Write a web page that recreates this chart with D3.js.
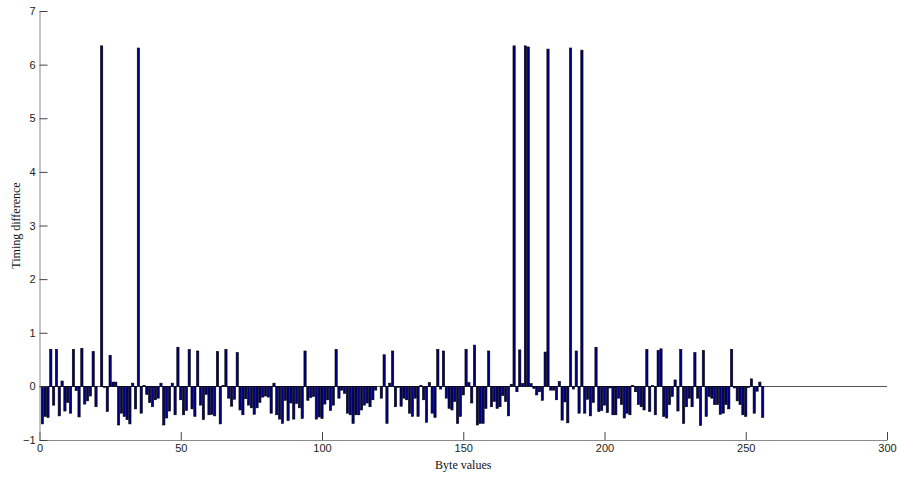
<!DOCTYPE html>
<html>
<head>
<meta charset="utf-8">
<script src="https://cdn.jsdelivr.net/npm/d3@7"></script>
<style>
  html, body { margin: 0; padding: 0; background: #fff; }
  svg { display: block; }
</style>
</head>
<body>
<svg id="chart" width="898" height="478"></svg>
<script>
// ---- data ----
const byteValues = d3.range(1, 257);
const timingDiff = [
  -0.70,-0.56,-0.58, 0.69,-0.35, 0.69,-0.55, 0.10,-0.46,-0.30,
  -0.50, 0.69,-0.08,-0.57, 0.71,-0.33,-0.27,-0.18, 0.65,-0.38,
   0.00, 6.35,-0.02,-0.47, 0.58, 0.08, 0.08,-0.72,-0.50,-0.56,
  -0.62,-0.70, 0.06,-0.42, 6.31,-0.50, 0.02,-0.15,-0.30,-0.38,
  -0.25,-0.22, 0.06,-0.72,-0.59,-0.46, 0.06,-0.53, 0.73,-0.25,
  -0.53,-0.45, 0.69,-0.42,-0.56, 0.66,-0.35,-0.62,-0.15,-0.53,
  -0.52,-0.55, 0.65,-0.70, 0.02, 0.69,-0.22,-0.37,-0.24, 0.63,
  -0.44,-0.53,-0.23,-0.35,-0.40,-0.52,-0.40,-0.30,-0.20,-0.18,
  -0.20,-0.50, 0.06,-0.53,-0.61,-0.69,-0.26,-0.64,-0.31,-0.61,
  -0.32,-0.40,-0.60, 0.66,-0.26,-0.21,-0.19,-0.61,-0.57,-0.60,
  -0.33,-0.25,-0.45,-0.35, 0.69,-0.22,-0.07,-0.13,-0.50,-0.53,
  -0.69,-0.53,-0.53,-0.44,-0.35,-0.31,-0.38,-0.25,-0.07, 0.00,
  -0.22, 0.59,-0.69, 0.06, 0.66,-0.38,-0.02,-0.37,-0.22,-0.25,
  -0.50,-0.56,-0.22,-0.56, 0.02,-0.25,-0.67, 0.07,-0.50,-0.58,
   0.69,-0.05, 0.66,-0.22,-0.41,-0.44,-0.28,-0.69,-0.56,-0.16,
   0.69, 0.07,-0.31, 0.77,-0.72,-0.69,-0.69,-0.41, 0.66,-0.38,
  -0.28,-0.41,-0.38,-0.17,-0.28,-0.55, 0.04, 6.35,-0.10, 0.68,
   0.05, 6.35, 6.33, 0.05,-0.04,-0.16,-0.10,-0.26, 0.64, 6.29,
  -0.07,-0.07,-0.25, 0.09,-0.63,-0.29,-0.68, 6.31,-0.05, 0.66,
  -0.50, 6.27,-0.50,-0.24,-0.55,-0.30, 0.73,-0.47,-0.45,-0.35,
  -0.49,-0.03,-0.53,-0.53,-0.22,-0.34,-0.59,-0.50,-0.53, 0.02,
  -0.10,-0.34,-0.38,-0.44, 0.69,-0.47, 0.02,-0.53, 0.67, 0.70,
  -0.56,-0.59,-0.34,-0.19, 0.12,-0.46, 0.69,-0.69,-0.38,-0.22,
  -0.38, 0.63,-0.22,-0.73, 0.67,-0.56,-0.19,-0.22,-0.34,-0.34,
  -0.52,-0.50,-0.34,-0.42, 0.69,-0.03,-0.27,-0.34,-0.53,-0.56,
  -0.02, 0.14,-0.50,-0.09, 0.08,-0.58
];
const xTicks = [0, 50, 100, 150, 200, 250, 300];
const yTicks = [-1, 0, 1, 2, 3, 4, 5, 6, 7];
const xLabel = "Byte values";
const yLabel = "Timing difference";

// ---- layout ----
const svg = d3.select("#chart");
const mLeft = 39.5, mRight = 887, mTop = 11, mBottom = 440;
const x = d3.scaleLinear().domain([0, 300]).range([mLeft, mRight]);
const y = d3.scaleLinear().domain([-1, 7]).range([mBottom, mTop]);
const barW = x(0.8) - x(0);

// baseline
svg.append("line")
  .attr("x1", x(0)).attr("x2", x(300))
  .attr("y1", Math.round(y(0)) + 0.5).attr("y2", Math.round(y(0)) + 0.5)
  .attr("stroke", "#555").attr("stroke-width", 1);

// bars
svg.append("g").selectAll("rect")
  .data(byteValues.map((b, i) => ({ b, v: timingDiff[i] })))
  .join("rect")
  .attr("x", d => x(d.b) - barW / 2)
  .attr("width", barW)
  .attr("y", d => Math.min(y(d.v), y(0)))
  .attr("height", d => Math.abs(y(d.v) - y(0)))
  .attr("fill", "#00007f")
  .attr("stroke", "#000")
  .attr("stroke-width", 0.6);

// axes
const axisColor = "#8a8a8a";
const xAxis = svg.append("g")
  .attr("transform", `translate(0,${mBottom})`)
  .call(d3.axisBottom(x).tickValues(xTicks).tickSizeInner(-8).tickSizeOuter(0).tickPadding(4));
const yAxis = svg.append("g")
  .attr("transform", `translate(${mLeft},0)`)
  .call(d3.axisLeft(y).tickValues(yTicks).tickSizeInner(-8).tickSizeOuter(0).tickPadding(4));

[xAxis, yAxis].forEach(g => {
  g.select(".domain").attr("stroke", axisColor);
  g.selectAll(".tick line").attr("stroke", "#444");
  g.selectAll(".tick text")
    .attr("fill", "#222")
    .style("font-family", "'Liberation Sans', Arial, sans-serif")
    .style("font-size", "11px");
});

// axis titles
svg.append("text")
  .attr("x", (mLeft + mRight) / 2).attr("y", 469)
  .attr("text-anchor", "middle")
  .style("font-family", "'Liberation Serif', 'Times New Roman', serif")
  .style("font-size", "12px")
  .attr("fill", "#111")
  .text(xLabel);

svg.append("text")
  .attr("transform", `translate(20,${(mTop + mBottom) / 2}) rotate(-90)`)
  .attr("text-anchor", "middle")
  .style("font-family", "'Liberation Serif', 'Times New Roman', serif")
  .style("font-size", "12px")
  .attr("fill", "#111")
  .text(yLabel);
</script>
</body>
</html>
